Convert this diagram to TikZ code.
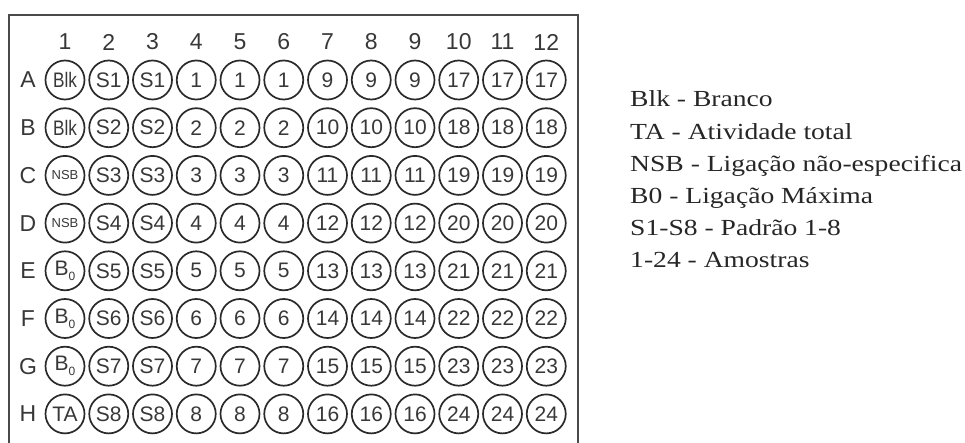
\documentclass[tikz,border=0pt]{standalone}
\usepackage{fontspec}
\setmainfont{Liberation Serif}
\newfontfamily\platefont{Liberation Sans}
\newfontfamily\legendfont{Liberation Serif}[FakeStretch=1.2]
\definecolor{welledge}{HTML}{2A2A2A}
\definecolor{welltext}{HTML}{383838}
\tikzset{
  well/.style={circle,draw=welledge,line width=1.7pt,minimum size=39pt,inner sep=0pt,
    text=welltext,font=\platefont\fontsize{21}{21}\selectfont},
  hdr/.style={text=welltext,font=\platefont\fontsize{23}{23}\selectfont,inner sep=0pt},
  legendline/.style={anchor=base west,inner sep=0pt,text=black!85,
    font=\legendfont\fontsize{23}{23}\selectfont}
}
\begin{document}
\begin{tikzpicture}[x=1pt,y=-1pt]
\useasboundingbox (0,0) rectangle (965,443);
\begin{scope}
\clip (0,0) rectangle (965,443);
\draw[welledge!85,line width=2.4pt] (9,460) -- (9,15) -- (578,15) -- (578,460);
\end{scope}

% column numbers and row letters
\foreach \c in {1,...,12}
  \node[hdr] (col\c) at ({65+43.75*(\c-1)},42) {\c};
\foreach \r/\letter in {1/A,2/B,3/C,4/D,5/E,6/F,7/G,8/H}
  \node[hdr] (row\r) at (28,{80+47.7*(\r-1)}) {\letter};

% first column: controls
\foreach \r/\lbl in {1/{\fontsize{21}{21}\selectfont\scalebox{0.82}[1]{Blk}},
                     2/{\fontsize{21}{21}\selectfont\scalebox{0.82}[1]{Blk}},
                     3/{\fontsize{13}{13}\selectfont NSB},
                     4/{\fontsize{13}{13}\selectfont NSB},
                     5/{B\raisebox{-5pt}{\fontsize{12}{12}\selectfont 0}},
                     6/{B\raisebox{-5pt}{\fontsize{12}{12}\selectfont 0}},
                     7/{B\raisebox{-5pt}{\fontsize{12}{12}\selectfont 0}},
                     8/TA}
  \node[well] (w\r-1) at (65,{80+47.7*(\r-1)}) {\lbl};

% standards and samples
\foreach \c in {2,...,12}
  \foreach \r in {1,...,8} {
    \pgfmathtruncatemacro\grp{(\c-1)/3}
    \ifnum\grp=0 \def\lbl{S\r}\else \pgfmathtruncatemacro\lbl{\r+8*(\grp-1)}\fi
    \node[well] (w\r-\c) at ({65+43.75*(\c-1)},{80+47.7*(\r-1)}) {\lbl};
  }

% legend
\node[legendline] (leg1) at (630,107) {Blk - Branco};
\node[legendline] (leg2) at (630,139.2) {TA - Atividade total};
\node[legendline] (leg3) at (630,171.4) {NSB - Ligação não-especifica};
\node[legendline] (leg4) at (630,203.6) {B0 - Ligação Máxima};
\node[legendline] (leg5) at (630,235.8) {S1-S8 - Padrão 1-8};
\node[legendline] (leg6) at (630,268) {1-24 - Amostras};
\end{tikzpicture}
\end{document}
